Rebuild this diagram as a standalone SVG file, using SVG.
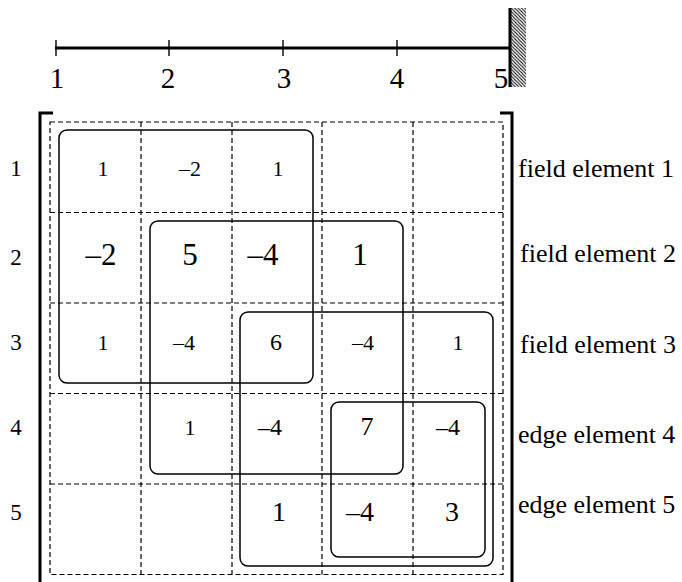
<svg xmlns="http://www.w3.org/2000/svg" width="682" height="582" viewBox="0 0 682 582">
  <style>
    .ax { font-size: 29px; text-anchor: middle; }
    .row { font-size: 23px; text-anchor: middle; }
    .lbl { font-size: 26px; }
    .c { text-anchor: middle; }
    .s { font-size: 22px; }
    .m { font-size: 24px; }
    .m2 { font-size: 26px; }
    .l { font-size: 28px; }
    .xl { font-size: 31px; }
    .grid { fill: none; stroke: #000; stroke-width: 1.2; stroke-dasharray: 5 3; }
    .elem { fill: none; stroke: #000; stroke-width: 1.5; }
    .brk { fill: none; stroke: #000; stroke-width: 3; }
  </style>
  <defs>
    <pattern id="hatch" patternUnits="userSpaceOnUse" width="3.4" height="3.4">
      <path d="M-1,-1 L4.4,4.4 M-1,2.4 L1,4.4 M2.4,-1 L4.4,1" stroke="#000" stroke-width="1"/>
    </pattern>
  </defs>
  <rect width="682" height="582" fill="#fff"/>

  <g font-family="'Liberation Serif', 'Times New Roman', 'DejaVu Serif', serif" fill="#000">
  <!-- beam with node ticks and clamped end -->
  <g id="beam">
    <rect x="511" y="8" width="15" height="79" fill="url(#hatch)"/>
    <line x1="510" y1="8" x2="510" y2="87" stroke="#000" stroke-width="3"/>
    <line x1="55" y1="48" x2="510" y2="48" stroke="#000" stroke-width="3"/>
    <g stroke="#000" stroke-width="1.4">
      <line x1="56" y1="40" x2="56" y2="56"/>
      <line x1="169" y1="40" x2="169" y2="56"/>
      <line x1="283" y1="40" x2="283" y2="56"/>
      <line x1="397" y1="40" x2="397" y2="56"/>
    </g>
    <text class="ax" x="57" y="88">1</text>
    <text class="ax" x="168" y="88">2</text>
    <text class="ax" x="284" y="88">3</text>
    <text class="ax" x="397" y="88">4</text>
    <text class="ax" x="501" y="88">5</text>
  </g>

  <!-- matrix brackets -->
  <g id="brackets">
    <path class="brk" d="M53,113 H40 V582"/>
    <path class="brk" d="M500,113 H512 V582"/>
  </g>

  <!-- dashed 5x5 cell grid -->
  <g id="grid">
    <rect class="grid" x="50" y="122" width="453" height="452.5"/>
    <line class="grid" x1="141" y1="122" x2="141" y2="574.5"/>
    <line class="grid" x1="232" y1="122" x2="232" y2="574.5"/>
    <line class="grid" x1="322" y1="122" x2="322" y2="574.5"/>
    <line class="grid" x1="413" y1="122" x2="413" y2="574.5"/>
    <line class="grid" x1="50" y1="212.5" x2="503" y2="212.5"/>
    <line class="grid" x1="50" y1="303" x2="503" y2="303"/>
    <line class="grid" x1="50" y1="393.5" x2="503" y2="393.5"/>
    <line class="grid" x1="50" y1="484" x2="503" y2="484"/>
  </g>

  <!-- element stiffness blocks -->
  <g id="element1"><rect class="elem" x="59" y="130" width="254" height="253" rx="8"/></g>
  <g id="element2"><rect class="elem" x="150" y="221" width="253" height="253" rx="8"/></g>
  <g id="element3"><rect class="elem" x="240" y="312" width="253" height="254" rx="8"/></g>
  <g id="element4"><rect class="elem" x="331" y="402" width="154" height="155" rx="8"/></g>

  <!-- row numbers -->
  <g id="row-labels">
    <text class="row" x="16" y="176">1</text>
    <text class="row" x="16" y="265">2</text>
    <text class="row" x="16" y="350">3</text>
    <text class="row" x="16" y="435">4</text>
    <text class="row" x="16" y="520">5</text>
  </g>

  <!-- matrix entries -->
  <g id="entries">
    <text class="c s" x="103" y="176">1</text>
    <text class="c s" x="190" y="176">–2</text>
    <text class="c s" x="278" y="176">1</text>

    <text class="c xl" x="101" y="265">–2</text>
    <text class="c xl" x="190" y="265">5</text>
    <text class="c xl" x="263" y="265">–4</text>
    <text class="c xl" x="360" y="265">1</text>

    <text class="c s" x="103" y="350">1</text>
    <text class="c s" x="184" y="350">–4</text>
    <text class="c m" x="276" y="350">6</text>
    <text class="c s" x="363" y="350">–4</text>
    <text class="c s" x="458" y="350">1</text>

    <text class="c s" x="190" y="435">1</text>
    <text class="c m" x="270" y="435">–4</text>
    <text class="c m2" x="367" y="435">7</text>
    <text class="c m" x="448" y="435">–4</text>

    <text class="c l" x="279" y="521">1</text>
    <text class="c l" x="360" y="521">–4</text>
    <text class="c l" x="452" y="521">3</text>
  </g>

  <!-- element names -->
  <g id="element-labels">
    <text class="lbl" x="518" y="177">field element 1</text>
    <text class="lbl" x="520" y="262">field element 2</text>
    <text class="lbl" x="520" y="353">field element 3</text>
    <text class="lbl" x="518" y="443">edge element 4</text>
    <text class="lbl" x="518" y="513">edge element 5</text>
  </g>
  </g>
</svg>
